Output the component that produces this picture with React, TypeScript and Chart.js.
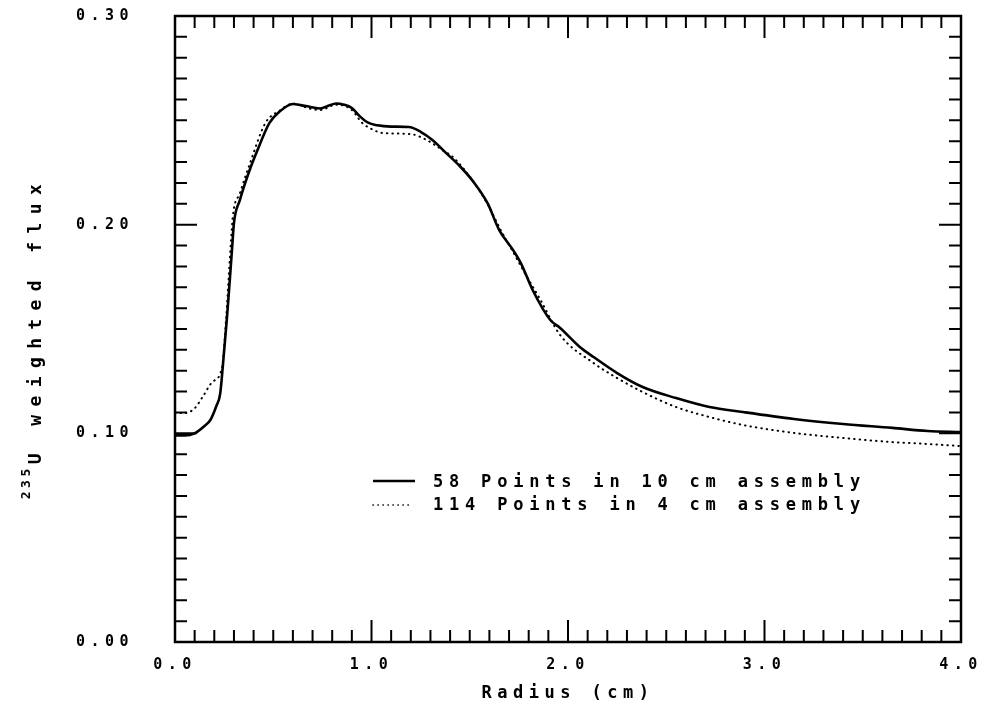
import React, { useEffect, useRef } from "react";
import { Chart, registerables } from "chart.js";

Chart.register(...registerables);

// ---- data ----
const solidX = [0.0, 0.05, 0.1, 0.15, 0.18, 0.21, 0.23, 0.245, 0.265, 0.28, 0.29, 0.3, 0.33, 0.38, 0.42, 0.48, 0.53, 0.6, 0.64, 0.69, 0.74, 0.78, 0.82, 0.86, 0.9, 0.94, 0.98, 1.03, 1.1, 1.19, 1.25, 1.31, 1.38, 1.45, 1.52, 1.59, 1.65, 1.72, 1.76, 1.82, 1.91, 1.96, 2.06, 2.13, 2.25, 2.38, 2.55, 2.72, 2.89, 3.15, 3.4, 3.65, 3.83, 4.0];
const solidY = [0.099, 0.099, 0.1, 0.1035, 0.1064, 0.113, 0.119, 0.134, 0.156, 0.175, 0.188, 0.2008, 0.2118, 0.2262, 0.2358, 0.2487, 0.254, 0.2578, 0.2573, 0.2564, 0.2557, 0.257, 0.2581, 0.2575, 0.2559, 0.252, 0.249, 0.2476, 0.247, 0.2468, 0.2445, 0.2406, 0.2343, 0.228, 0.2204, 0.2104, 0.1974, 0.1879, 0.1816, 0.1687, 0.1543, 0.1505, 0.1414, 0.1366, 0.1289, 0.1222, 0.1169, 0.1126, 0.1102, 0.1069, 0.1045, 0.1026, 0.1011, 0.1006];

const dottedX = [0.0, 0.05, 0.1, 0.14, 0.19, 0.24, 0.26, 0.28, 0.295, 0.33, 0.38, 0.46, 0.53, 0.6, 0.69, 0.74, 0.82, 0.9, 0.95, 1.01, 1.06, 1.2, 1.28, 1.36, 1.42, 1.52, 1.59, 1.66, 1.72, 1.78, 1.86, 1.96, 2.13, 2.25, 2.38, 2.55, 2.72, 2.89, 3.15, 3.4, 3.65, 3.83, 4.0];
const dottedY = [0.1097, 0.1097, 0.112, 0.1174, 0.1246, 0.1318, 0.155, 0.185, 0.2046, 0.215, 0.229, 0.2487, 0.2545, 0.258, 0.2555, 0.255, 0.2575, 0.255, 0.249, 0.2454, 0.2439, 0.2434, 0.2406, 0.2358, 0.2319, 0.2204, 0.21, 0.197, 0.187, 0.1768, 0.1639, 0.1471, 0.1337, 0.1265, 0.1198, 0.1126, 0.1078, 0.104, 0.1002, 0.0978, 0.0958, 0.0949, 0.0939];

const xTickLabels = ["0.0", "1.0", "2.0", "3.0", "4.0"];
const yTickLabels = ["0.00", "0.10", "0.20", "0.30"];
const seriesLabels = ["58 Points in 10 cm assembly", "114 Points in 4 cm assembly"];
const xTitle = "Radius (cm)";
const yTitleSup = "235";
const yTitleMain = "U weighted flux";

const MONO = '"DejaVu Sans Mono", monospace';

const framePlugin = {
  id: "plotterFrame",
  beforeDraw(chart: any) {
    (chart.ctx as any).letterSpacing = "5.5px";
  },
  afterDraw(chart: any) {
    const ctx = chart.ctx as CanvasRenderingContext2D;
    const { left, right, top, bottom } = chart.chartArea;
    const xs = chart.scales.x;
    const ys = chart.scales.y;
    ctx.save();
    ctx.strokeStyle = "#000";
    ctx.fillStyle = "#000";
    ctx.lineWidth = 2.5;
    ctx.strokeRect(left, top, right - left, bottom - top);

    // inward ticks on all four sides
    ctx.lineWidth = 2;
    ctx.beginPath();
    for (let i = 1; i < 40; i++) {
      const px = xs.getPixelForValue(i / 10);
      const len = i % 10 === 0 ? 22 : 12;
      ctx.moveTo(px, bottom);
      ctx.lineTo(px, bottom - len);
      ctx.moveTo(px, top);
      ctx.lineTo(px, top + len);
    }
    for (let i = 1; i < 30; i++) {
      const py = ys.getPixelForValue(i / 100);
      const len = i % 10 === 0 ? 22 : 12;
      ctx.moveTo(left, py);
      ctx.lineTo(left + len, py);
      ctx.moveTo(right, py);
      ctx.lineTo(right - len, py);
    }
    ctx.stroke();

    // legend
    const lx0 = left + 198;
    const lx1 = left + 240;
    const tx = left + 258;
    const r1 = top + 465;
    const r2 = top + 489;
    ctx.lineWidth = 2.5;
    ctx.setLineDash([]);
    ctx.beginPath();
    ctx.moveTo(lx0, r1);
    ctx.lineTo(lx1, r1);
    ctx.stroke();
    ctx.lineWidth = 1.6;
    ctx.lineCap = "round";
    ctx.setLineDash([0.3, 4.7]);
    ctx.beginPath();
    ctx.moveTo(lx0, r2);
    ctx.lineTo(lx1 - 3, r2);
    ctx.stroke();
    ctx.setLineDash([]);
    (ctx as any).letterSpacing = "5.8px";
    ctx.font = `bold 17px ${MONO}`;
    ctx.textAlign = "left";
    ctx.textBaseline = "middle";
    ctx.fillText(seriesLabels[0], tx, r1 + 2);
    ctx.fillText(seriesLabels[1], tx, r2 + 1);

    // y-axis title with superscript
    ctx.translate(left - 140, 338);
    ctx.rotate(-Math.PI / 2);
    ctx.font = `bold 13px ${MONO}`;
    (ctx as any).letterSpacing = "3.5px";
    const wSup = ctx.measureText(yTitleSup).width;
    ctx.font = `bold 18px ${MONO}`;
    (ctx as any).letterSpacing = "8.4px";
    const wMain = ctx.measureText(yTitleMain).width;
    const start = -(wSup + wMain) / 2;
    ctx.font = `bold 13px ${MONO}`;
    (ctx as any).letterSpacing = "3.5px";
    ctx.fillText(yTitleSup, start, -8);
    ctx.font = `bold 18px ${MONO}`;
    (ctx as any).letterSpacing = "8.4px";
    ctx.fillText(yTitleMain, start + wSup + 1, 1);
    ctx.restore();
    (ctx as any).letterSpacing = "0px";
  },
};

export default function App() {
  const ref = useRef<HTMLCanvasElement | null>(null);
  useEffect(() => {
    if (!ref.current) return;
    const chart = new Chart(ref.current, {
      type: "line",
      data: {
        datasets: [
          {
            label: seriesLabels[0],
            data: solidX.map((x, i) => ({ x, y: solidY[i] })),
            borderColor: "#000",
            borderWidth: 2.6,
            pointRadius: 0,
            cubicInterpolationMode: "monotone",
            fill: false,
          },
          {
            label: seriesLabels[1],
            data: dottedX.map((x, i) => ({ x, y: dottedY[i] })),
            borderColor: "#000",
            borderWidth: 2,
            borderDash: [0.5, 5],
            borderCapStyle: "round",
            pointRadius: 0,
            cubicInterpolationMode: "monotone",
            fill: false,
          },
        ],
      },
      options: {
        animation: false,
        responsive: false,
        devicePixelRatio: 1,
        layout: { padding: { left: 0, top: 16, right: 29, bottom: 0 } },
        plugins: { legend: { display: false }, tooltip: { enabled: false } },
        scales: {
          x: {
            type: "linear",
            min: 0,
            max: 4,
            grid: { display: false, drawTicks: false },
            border: { display: false },
            ticks: {
              stepSize: 1,
              autoSkip: false,
              maxRotation: 0,
              padding: 14,
              color: "#000",
              font: { family: MONO, size: 15, weight: "bold" },
              callback: (v: any) => xTickLabels[Math.round(Number(v))] ?? "",
            },
            title: {
              display: true,
              text: xTitle,
              color: "#000",
              font: { family: MONO, size: 17, weight: "bold" },
              padding: { top: 0, bottom: 16 },
            },
            afterFit: (s: any) => {
              s.height = 78;
              s.paddingLeft = 0;
              s.paddingRight = 0;
            },
          },
          y: {
            type: "linear",
            min: 0,
            max: 0.3,
            grid: { display: false, drawTicks: false },
            border: { display: false },
            ticks: {
              stepSize: 0.1,
              autoSkip: false,
              padding: 41,
              color: "#000",
              font: { family: MONO, size: 15, weight: "bold" },
              callback: (v: any) => yTickLabels[Math.round(Number(v) * 10)] ?? "",
            },
            afterFit: (s: any) => {
              s.width = 175;
              s.paddingTop = 0;
              s.paddingBottom = 0;
            },
          },
        },
      },
      plugins: [framePlugin],
    } as any);
    return () => chart.destroy();
  }, []);
  return (
    <div style={{ position: "absolute", left: 0, top: 0, width: 990, height: 720, background: "#fff" }}>
      <canvas ref={ref} width={990} height={720} />
    </div>
  );
}
